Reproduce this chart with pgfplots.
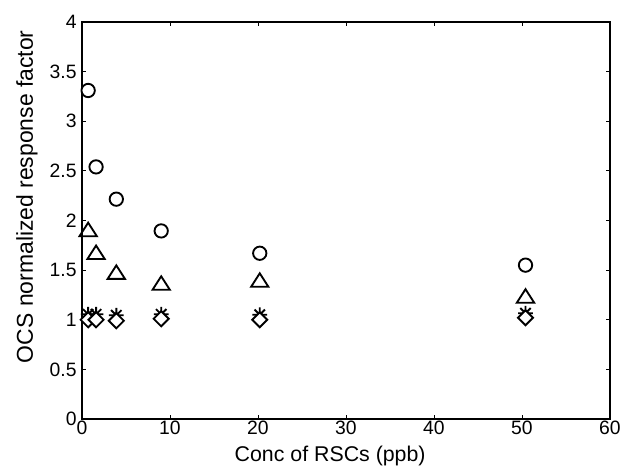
\documentclass[border=0pt]{standalone}
\usepackage{pgfplots}
\pgfplotsset{compat=1.18}
\usepackage{fontspec}
\setmainfont{Liberation Sans}

% MATLAB-style '*' : plus and cross together
\pgfdeclareplotmark{mstar}{%
  \pgfpathmoveto{\pgfqpoint{-\pgfplotmarksize}{0pt}}\pgfpathlineto{\pgfqpoint{\pgfplotmarksize}{0pt}}%
  \pgfpathmoveto{\pgfqpoint{0pt}{-\pgfplotmarksize}}\pgfpathlineto{\pgfqpoint{0pt}{\pgfplotmarksize}}%
  \pgfpathmoveto{\pgfqpoint{-.707\pgfplotmarksize}{-.707\pgfplotmarksize}}\pgfpathlineto{\pgfqpoint{.707\pgfplotmarksize}{.707\pgfplotmarksize}}%
  \pgfpathmoveto{\pgfqpoint{-.707\pgfplotmarksize}{.707\pgfplotmarksize}}\pgfpathlineto{\pgfqpoint{.707\pgfplotmarksize}{-.707\pgfplotmarksize}}%
  \pgfusepathqstroke}

\begin{document}
\begin{tikzpicture}
\path[use as bounding box] (-61.5pt,-38.25pt) rectangle (405pt,314.25pt);
\begin{axis}[
  scale only axis,
  width=396pt, height=297.75pt,
  xmin=0, xmax=60, ymin=0, ymax=4,
  xtick={0,10,...,60},
  ytick={0,0.5,...,4},
  yticklabels={0,0.5,1,1.5,2,2.5,3,3.5,4},
  tick align=inside,
  major tick length=3.2pt,
  axis line style={line width=0.8pt},
  tick style={line width=0.6pt, black},
  /pgf/number format/assume math mode=true,
  tick label style={font=\fontsize{14.5}{16}\selectfont},
  xticklabel style={yshift=2pt},
  yticklabel style={xshift=-0.5pt},
  xlabel={Conc of RSCs (ppb)},
  ylabel={OCS normalized response factor},
  xlabel style={font=\fontsize{16}{18}\selectfont, at={(axis description cs:0.47,0)}, anchor=base, yshift=-32.25pt},
  ylabel style={font=\fontsize{17.2}{20}\selectfont, at={(axis description cs:-0.0928,0.56)}, anchor=base},
]
\addplot[only marks, mark=*, mark size=5pt, line width=1.4pt, mark options={fill=white, draw=black}]
  coordinates {(0.7,3.31) (1.6,2.54) (3.9,2.215) (9.0,1.895) (20.2,1.67) (50.4,1.55)};
\addplot[only marks, mark=triangle, mark size=7.5pt, line width=1.4pt, mark options={draw=black, yshift=-1.7pt, yscale=0.9}]
  coordinates {(0.7,1.91) (1.6,1.68) (3.9,1.48) (9.0,1.37) (20.2,1.40) (50.4,1.24)};
\addplot[only marks, mark=mstar, mark size=5.5pt, line width=1.4pt, mark options={draw=black}]
  coordinates {(0.7,1.055) (1.6,1.055) (3.9,1.045) (9.0,1.055) (20.2,1.05) (50.4,1.065)};
\addplot[only marks, mark=square*, mark size=4pt, line width=1.4pt, mark options={rotate=45, fill=white, draw=black}]
  coordinates {(0.7,1.0) (1.6,1.0) (3.9,0.99) (9.0,1.01) (20.2,1.0) (50.4,1.02)};
\end{axis}
\end{tikzpicture}
\end{document}
